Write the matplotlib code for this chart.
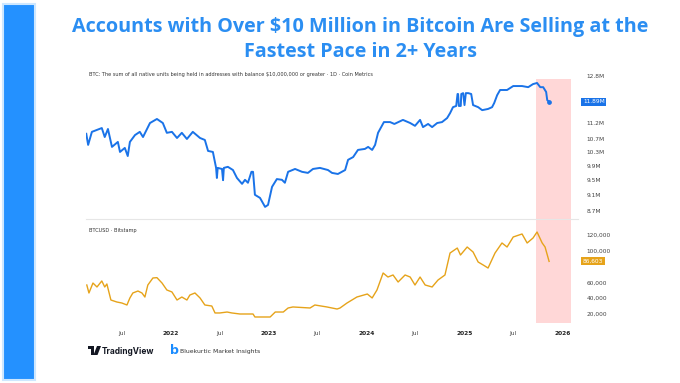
import pandas as pd
import matplotlib
matplotlib.use("Agg")
import matplotlib.pyplot as plt
from matplotlib.patches import Rectangle, Polygon

# BTC held by $10M+ addresses (millions BTC)
whale_dates = ['2021-02-18', '2021-02-25', '2021-03-11', '2021-04-17', '2021-04-28', '2021-05-10',
               '2021-05-25', '2021-06-16', '2021-06-24', '2021-07-12', '2021-07-23', '2021-07-31',
               '2021-08-19', '2021-09-06', '2021-09-18', '2021-10-14', '2021-11-09', '2021-12-01',
               '2021-12-16', '2022-01-04', '2022-01-23', '2022-02-10', '2022-03-01', '2022-03-23',
               '2022-04-19', '2022-05-07', '2022-05-19', '2022-06-06', '2022-06-18', '2022-06-21',
               '2022-06-24', '2022-07-10', '2022-07-14', '2022-07-17', '2022-08-01', '2022-08-20',
               '2022-09-04', '2022-09-23', '2022-10-04', '2022-10-15', '2022-10-28', '2022-11-03',
               '2022-11-10', '2022-11-29', '2022-12-18', '2022-12-29', '2023-01-13', '2023-01-31',
               '2023-02-19', '2023-03-02', '2023-03-14', '2023-04-09', '2023-05-05', '2023-05-27',
               '2023-06-15', '2023-07-11', '2023-08-10', '2023-08-25', '2023-09-16', '2023-10-13',
               '2023-10-24', '2023-11-12', '2023-11-30', '2023-12-26', '2024-01-07', '2024-01-22',
               '2024-02-02', '2024-02-13', '2024-03-06', '2024-03-29', '2024-04-14', '2024-05-16',
               '2024-06-12', '2024-06-30', '2024-07-19', '2024-07-30', '2024-08-18', '2024-09-02',
               '2024-09-21', '2024-10-09', '2024-10-28', '2024-11-08', '2024-11-19', '2024-12-01',
               '2024-12-06', '2024-12-08', '2024-12-11', '2024-12-18', '2024-12-20', '2024-12-27',
               '2025-01-01', '2025-01-06', '2025-01-15', '2025-01-26', '2025-02-02', '2025-02-21',
               '2025-03-08', '2025-03-30', '2025-04-14', '2025-04-22', '2025-05-03', '2025-05-14',
               '2025-06-09', '2025-07-02', '2025-08-04', '2025-08-27', '2025-09-14', '2025-09-29',
               '2025-10-11', '2025-10-22', '2025-11-02', '2025-11-06', '2025-11-13']
whale_btc = [10.85, 10.51, 10.91, 11.03, 10.75, 11.00,
             10.45, 10.60, 10.30, 10.42, 10.18, 10.60,
             10.81, 10.91, 10.75, 11.19, 11.32, 11.19,
             10.88, 10.91, 10.72, 10.88, 10.69, 10.91,
             10.72, 10.66, 10.33, 10.30, 9.84, 9.56,
             9.84, 9.81, 9.50, 9.84, 9.87, 9.78,
             9.56, 9.40, 9.51, 9.43, 9.73, 9.73,
             9.11, 9.03, 8.80, 8.85, 9.32, 9.53,
             9.51, 9.43, 9.73, 9.81, 9.73, 9.70,
             9.81, 9.84, 9.78, 9.70, 9.67, 9.78,
             10.07, 10.15, 10.36, 10.39, 10.45, 10.36,
             10.51, 10.88, 11.22, 11.22, 11.16, 11.29,
             11.19, 11.10, 11.29, 11.06, 11.16, 11.06,
             11.19, 11.22, 11.35, 11.51, 11.71, 11.75,
             12.16, 12.16, 11.75, 11.75, 12.16, 12.19,
             11.78, 12.19, 12.19, 12.16, 11.78, 11.71,
             11.61, 11.65, 11.71, 11.85, 12.12, 12.30,
             12.30, 12.44, 12.44, 12.40, 12.51, 12.55,
             12.40, 12.40, 12.23, 11.95, 11.89]

# BTCUSD (Bitstamp), USD
price_dates = ['2021-02-20', '2021-02-28', '2021-03-15', '2021-03-30', '2021-04-17', '2021-04-28',
               '2021-05-06', '2021-05-21', '2021-06-12', '2021-07-01', '2021-07-20', '2021-07-31',
               '2021-08-11', '2021-08-30', '2021-09-14', '2021-09-25', '2021-10-06', '2021-10-25',
               '2021-11-09', '2021-11-28', '2021-12-16', '2022-01-04', '2022-01-23', '2022-02-10',
               '2022-03-01', '2022-03-12', '2022-03-31', '2022-04-19', '2022-05-07', '2022-06-02',
               '2022-06-14', '2022-07-02', '2022-07-29', '2022-08-16', '2022-09-15', '2022-11-03',
               '2022-11-10', '2023-01-06', '2023-01-25', '2023-02-24', '2023-03-14', '2023-04-01',
               '2023-06-04', '2023-06-22', '2023-08-06', '2023-09-13', '2023-09-24', '2023-10-20',
               '2023-11-26', '2024-01-04', '2024-01-22', '2024-02-09', '2024-03-03', '2024-03-21',
               '2024-04-09', '2024-04-28', '2024-05-24', '2024-06-12', '2024-06-30', '2024-07-19',
               '2024-08-07', '2024-09-02', '2024-09-24', '2024-10-20', '2024-11-08', '2024-12-05',
               '2024-12-17', '2025-01-11', '2025-02-02', '2025-02-21', '2025-03-12', '2025-03-30',
               '2025-04-25', '2025-05-21', '2025-06-09', '2025-07-02', '2025-08-04', '2025-08-23',
               '2025-09-14', '2025-09-29', '2025-10-18', '2025-10-29', '2025-11-13']
btc_usd = [56700, 46600, 59200, 54200, 61800, 54200,
           58000, 37700, 35200, 33900, 31400, 40300,
           46600, 49100, 46600, 41500, 56700, 65600,
           66000, 59200, 50400, 47900, 37700, 41500,
           37700, 44000, 46600, 40300, 31400, 30100,
           21300, 21300, 22500, 21300, 20000, 20000,
           16200, 16200, 22500, 22500, 27600, 28900,
           27600, 31400, 28900, 26300, 27600, 33900,
           41500, 45300, 40300, 50400, 71900, 66800,
           69400, 60500, 69400, 66800, 56700, 66800,
           56700, 54200, 63000, 69400, 97200, 103500,
           94700, 104800, 98500, 85800, 82000, 78200,
           97200, 109900, 104800, 117500, 121300, 109900,
           116200, 123800, 110000, 104800, 86603]

whale_ticks = [8.7, 9.1, 9.5, 9.9, 10.3, 10.7, 11.2, 12.8]
whale_tick_labels = ['8.7M', '9.1M', '9.5M', '9.9M', '10.3M', '10.7M', '11.2M', '12.8M']
price_ticks = [20000, 40000, 60000, 100000, 120000]
x_ticks = ['2021-07-01', '2022-01-01', '2022-07-01', '2023-01-01', '2023-07-01',
           '2024-01-01', '2024-07-01', '2025-01-01', '2025-07-01', '2026-01-01']
x_tick_labels = ['Jul', '2022', 'Jul', '2023', 'Jul', '2024', 'Jul', '2025', 'Jul', '2026']
shade_start, shade_end = '2025-09-26', '2026-02-03'

W, H = 680, 383
BLUE = '#1a73e8'
GOLD = '#e6a31a'
SHADE = '#ffd3d3'

fig = plt.figure(figsize=(W / 100, H / 100), dpi=100)
fig.patch.set_facecolor('white')


def box(x0, y0, x1, y1):
    # pixel box (top-left origin) -> figure fraction rect
    return [x0 / W, 1 - y1 / H, (x1 - x0) / W, (y1 - y0) / H]


# left blue bar
fig.patches.append(Rectangle((3 / W, 3 / H), 32 / W, 376 / H, transform=fig.transFigure,
                             facecolor='#2491ff', edgecolor='#cde7ff', linewidth=1.5))

fig.text(360 / W, 1 - 27 / H, 'Accounts with Over $10 Million in Bitcoin Are Selling at the',
         ha='center', va='center', fontsize=14.2, fontweight='bold', color='#2b8ef2',
         family='Open Sans')
fig.text(360 / W, 1 - 52 / H, 'Fastest Pace in 2+ Years',
         ha='center', va='center', fontsize=14.2, fontweight='bold', color='#2b8ef2',
         family='Open Sans')

wd = pd.to_datetime(whale_dates)
pdts = pd.to_datetime(price_dates)
xlim = (pd.Timestamp('2021-02-17'), pd.Timestamp('2026-03-01'))

ax1 = fig.add_axes(box(86, 68, 578, 219))
ax2 = fig.add_axes(box(86, 220, 578, 323), sharex=ax1)

# top panel
ax1.plot(wd, whale_btc, color=BLUE, lw=1.4, solid_joinstyle='round')
ax1.plot(wd[-1], whale_btc[-1], 'o', color=BLUE, ms=2.4)
ax1.set_yscale('log')
ax1.set_ylim(8.50, 13.10)
ax1.axvspan(pd.Timestamp(shade_start), pd.Timestamp(shade_end), ymin=0, ymax=0.927,
            color=SHADE, alpha=0.9, lw=0, zorder=0)
ax1.set_yticks(whale_ticks)
ax1.set_yticklabels(whale_tick_labels)
ax1.yaxis.set_minor_locator(plt.NullLocator())
ax1.text(0.006, 0.955, 'BTC: The sum of all native units being held in addresses with balance '
         '$10,000,000 or greater · 1D · Coin Metrics', transform=ax1.transAxes,
         fontsize=3.6, color='#333333', va='center')
ax1.text(1.01, whale_btc[-1], '11.89M', transform=ax1.get_yaxis_transform(), fontsize=4.2,
         color='white', va='center', ha='left',
         bbox=dict(boxstyle='square,pad=0.25', fc=BLUE, ec='none'))

# bottom panel
ax2.plot(pdts, btc_usd, color=GOLD, lw=1.0)
ax2.set_ylim(8600, 139000)
ax2.axvspan(pd.Timestamp(shade_start), pd.Timestamp(shade_end), color=SHADE, alpha=0.9,
            lw=0, zorder=0)
ax2.set_yticks(price_ticks)
ax2.set_yticklabels([f'{v:,}' for v in price_ticks])
ax2.text(0.006, 0.9, 'BTCUSD · Bitstamp', transform=ax2.transAxes,
         fontsize=3.6, color='#333333', va='center')
ax2.text(1.01, btc_usd[-1], f'{btc_usd[-1]:,}', transform=ax2.get_yaxis_transform(),
         fontsize=4.2, color='white', va='center', ha='left',
         bbox=dict(boxstyle='square,pad=0.25', fc=GOLD, ec='none'))

for ax in (ax1, ax2):
    ax.set_xlim(xlim)
    ax.yaxis.tick_right()
    ax.tick_params(axis='y', length=0, pad=6, labelsize=4.2, labelcolor='#444444')
    for s in ax.spines.values():
        s.set_visible(False)
    ax.set_facecolor('none')

ax1.spines['bottom'].set_visible(True)
ax1.spines['bottom'].set_color('#e6e6e6')
ax1.spines['bottom'].set_linewidth(0.8)
ax1.tick_params(axis='x', bottom=False, labelbottom=False)

ax2.set_xticks(pd.to_datetime(x_ticks))
ax2.set_xticklabels(x_tick_labels)
ax2.tick_params(axis='x', length=0, pad=6, labelsize=4.2, labelcolor='#444444')
for lbl in ax2.get_xticklabels():
    if lbl.get_text() != 'Jul':
        lbl.set_fontweight('bold')
        lbl.set_color('#222222')

# footer: TradingView logo
tf = fig.transFigure


def P(x, y):
    return (x / W, 1 - y / H)


fig.patches.append(Rectangle(P(88, 349), 6 / W, 3 / H, transform=tf, fc='#131722', ec='none'))
fig.patches.append(Rectangle(P(91, 355), 3 / W, 9 / H, transform=tf, fc='#131722', ec='none'))
fig.patches.append(Polygon([P(97, 346), P(101, 346), P(97.5, 355), P(93.5, 355)], closed=True,
                           transform=tf, fc='#131722', ec='none'))
fig.text(102 / W, 1 - 351 / H, 'TradingView', fontsize=6.0, fontweight='bold',
         color='#131722', va='center', ha='left', family='Inter')

# footer: Bluekurtic
fig.text(170 / W, 1 - 350 / H, 'b', fontsize=9, fontweight='bold', color='#1a8cff',
         va='center', ha='left')
fig.text(180 / W, 1 - 352 / H, 'Bluekurtic Market Insights', fontsize=4.4, color='#333333',
         va='center', ha='left')

fig.savefig('out.png', dpi=100, facecolor='white')
